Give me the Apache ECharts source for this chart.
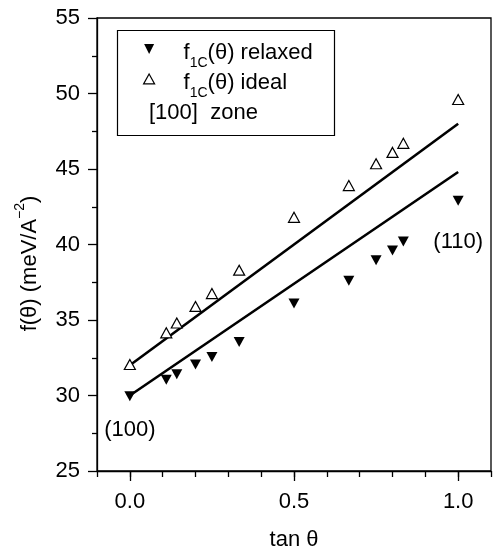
<!DOCTYPE html>
<html>
<head>
<meta charset="utf-8">
<script src="https://cdn.jsdelivr.net/npm/echarts@6/dist/echarts.min.js"></script>
<style>html,body{margin:0;padding:0;background:#fff;}#c{width:494px;height:556px;}</style>
</head>
<body>
<div id="c"></div>
<script>
// tan(theta) values of the [100] zone facets
const tanTheta = [0, 0.111, 0.143, 0.2, 0.25, 0.333, 0.5, 0.667, 0.75, 0.8, 0.833, 1.0];
// f1C(theta) relaxed (meV/A^-2)
const fRelaxed = [29.95, 31.05, 31.4, 32.05, 32.55, 33.55, 36.1, 37.6, 38.95, 39.6, 40.2, 42.9];
// f1C(theta) ideal (meV/A^-2)
const fIdeal = [32.05, 34.15, 34.8, 35.9, 36.75, 38.3, 41.8, 43.9, 45.35, 46.1, 46.7, 49.6];
// linear fits
const fitX = [0, 1];
const fitRelaxed = [30.0, 44.8];
const fitIdeal = [32.0, 48.0];
// axis tick labels
const xMajorTicks = [0, 0.5, 1.0];
const annotations = {0: '(100)', 11: '(110)'};

const FONT = 'Liberation Sans, Arial, sans-serif';
const chart = echarts.init(document.getElementById('c'), null, {renderer: 'canvas'});

const relaxedData = tanTheta.map((x, i) => {
  const d = {value: [x, fRelaxed[i]]};
  if (annotations[i]) {
    d.label = {show: true, formatter: annotations[i], position: 'bottom',
      distance: i === 0 ? 18 : 25, color: '#000', fontSize: 22, fontFamily: FONT};
  }
  return d;
});
const idealData = tanTheta.map((x, i) => [x, fIdeal[i]]);

const legendRich = {
  first: {fontSize: 22, fontFamily: FONT, color: '#000', lineHeight: 22, verticalAlign: 'top', padding: [4, 0, 0, 24]},
  m: {fontSize: 22, fontFamily: FONT, color: '#000', lineHeight: 22, verticalAlign: 'top', padding: [4, 0, 0, 0]},
  sub: {fontSize: 14, fontFamily: FONT, color: '#000', lineHeight: 14, verticalAlign: 'top', padding: [18, 0, 0, 0]}
};

chart.setOption({
  animation: false,
  backgroundColor: '#fff',
  grid: {left: 97, top: 18, width: 398, height: 455, show: true, borderColor: '#000', borderWidth: 1.3},
  legend: {
    orient: 'vertical', left: 143, top: 38, padding: 0,
    itemWidth: 11, itemHeight: 10, itemGap: -2,
    data: [
      {name: 'relaxed', icon: 'path://M0,0 L10,0 L5,10 Z', itemStyle: {color: '#000', borderWidth: 0}},
      {name: 'ideal', icon: 'path://M5,0 L10,9 L0,9 Z', itemStyle: {color: '#fff', borderColor: '#000', borderWidth: 1.2}}
    ],
    formatter: n => '{first|f}{sub|1C}{m|(θ) ' + n + '}',
    textStyle: {rich: legendRich}
  },
  graphic: [
    {type: 'rect', left: 115, top: 28, shape: {width: 217, height: 105}, style: {fill: 'none', stroke: '#000', lineWidth: 1.2}, z: 100},
    {type: 'text', left: 149, top: 102, style: {text: '[100]  zone', fontSize: 22, fontFamily: FONT, fill: '#000'}, z: 100}
  ],
  xAxis: [
    {
      type: 'value', min: -0.1, max: 1.1, interval: 0.1,
      name: 'tan θ', nameLocation: 'middle', nameGap: 58,
      nameTextStyle: {fontSize: 22, fontFamily: FONT, color: '#000'},
      axisLine: {onZero: false, lineStyle: {color: '#000', width: 1.3}},
      axisTick: {inside: false, length: 6, lineStyle: {color: '#000', width: 1.3}},
      axisLabel: {margin: 20, fontSize: 22, fontFamily: FONT, color: '#000',
        formatter: v => (Math.abs(v * 2 - Math.round(v * 2)) < 1e-6 && v > -0.05) ? v.toFixed(1) : ''},
      splitLine: {show: false}
    },
    {
      type: 'value', min: -0.1, max: 1.1, position: 'bottom',
      axisLine: {show: false, onZero: false},
      axisTick: {show: true, length: 10, customValues: xMajorTicks, lineStyle: {color: '#000', width: 1.3}},
      axisLabel: {show: false},
      splitLine: {show: false}
    }
  ],
  yAxis: {
    type: 'value', min: 25, max: 55, interval: 5,
    name: 'f(θ) (meV/A{sup|−2})', nameLocation: 'middle', nameGap: 56,
    nameTextStyle: {fontSize: 22, fontFamily: FONT, color: '#000', padding: [0, 38, 0, 0],
      rich: {sup: {fontSize: 14, fontFamily: FONT, color: '#000', verticalAlign: 'top', padding: [-6, 0, 0, 0]}}},
    axisLine: {onZero: false, lineStyle: {color: '#000', width: 1.3}},
    axisTick: {inside: false, length: 9, lineStyle: {color: '#000', width: 1.3}},
    minorTick: {show: true, splitNumber: 2, length: 5, lineStyle: {color: '#000', width: 1.3}},
    axisLabel: {margin: 17, fontSize: 22, fontFamily: FONT, color: '#000'},
    splitLine: {show: false}
  },
  series: [
    {type: 'line', name: 'fitIdeal', data: fitX.map((x, i) => [x, fitIdeal[i]]), symbol: 'none',
      lineStyle: {color: '#000', width: 2.6}, z: 2},
    {type: 'line', name: 'fitRelaxed', data: fitX.map((x, i) => [x, fitRelaxed[i]]), symbol: 'none',
      lineStyle: {color: '#000', width: 2.6}, z: 2},
    {type: 'scatter', name: 'relaxed', data: relaxedData, symbol: 'triangle', symbolRotate: 180, symbolSize: [11, 10],
      itemStyle: {color: '#000', opacity: 1}, z: 3},
    {type: 'scatter', name: 'ideal', data: idealData, symbol: 'triangle', symbolSize: [11, 10],
      itemStyle: {color: '#fff', borderColor: '#000', borderWidth: 1.2, opacity: 1}, z: 3}
  ]
});
</script>
</body>
</html>
